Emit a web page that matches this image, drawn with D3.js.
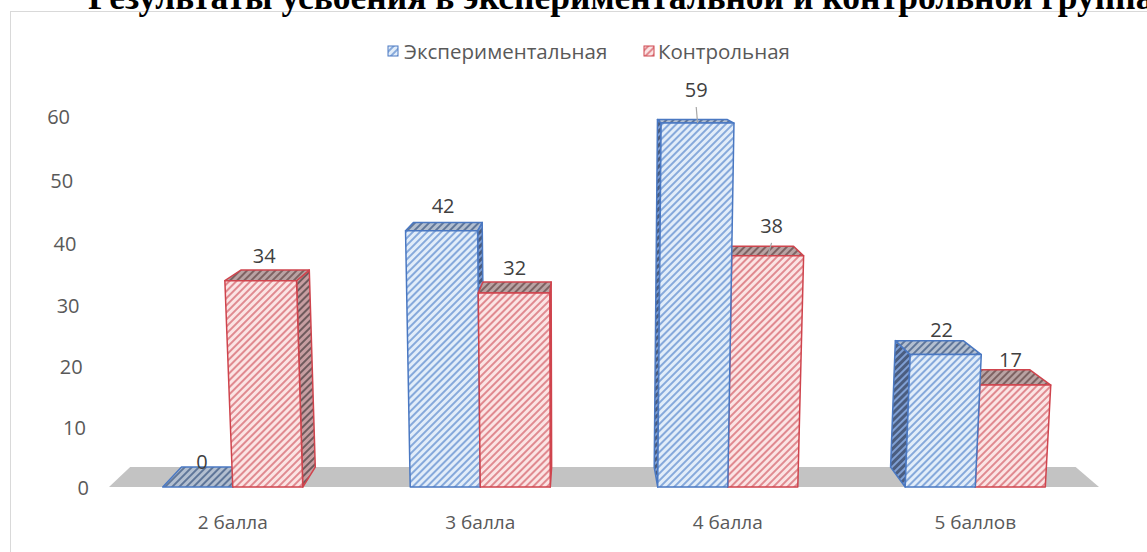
<!DOCTYPE html>
<html>
<head>
<meta charset="utf-8">
<script src="https://d3js.org/d3.v7.min.js"></script>
<style>
    body { margin: 0; background: #fff; }
    text { font-family: "Open Sans", sans-serif; }
</style>
</head>
<body>
<script>
    // chart data
    const title = "Результаты усвоения в экспериментальной и контрольной группах";
    const categories = ["2 балла", "3 балла", "4 балла", "5 баллов"];
    const seriesNames = ["Экспериментальная", "Контрольная"];
    const experimental = [0, 42, 59, 22];
    const control = [34, 32, 38, 17];
    const yTicks = [0, 10, 20, 30, 40, 50, 60];

    const width = 1147, height = 552;
    const svg = d3.select("body").append("svg")
        .attr("width", width)
        .attr("height", height);

    // simple 3d look: tall things lean outwards, depth goes to a point up top
    const base = 487, cx = 573, k = 0.000115;
    const vp = [580, 45], depth = 0.045;
    function project(x, h, d) {
        const g = 1 + k * h;
        const sx = cx + (x - cx) * g;
        const sy = base - h * g;
        return [sx + (vp[0] - sx) * depth * d, sy + (vp[1] - sy) * depth * d];
    }

    const x = d3.scaleBand().domain(categories).range([109, 1099])
        .paddingInner(0.434).paddingOuter(0.217);
    const xs = d3.scaleBand().domain(seriesNames).range([0, x.bandwidth()]);
    const y = d3.scaleLinear().domain([0, 60]).range([0, 355.8]);

    // hatch patterns for each face
    const styles = {
        "Экспериментальная": {
            edge: "#4a78c2",
            front: ["#e2edf9", "#86a9db"],
            top: ["#b3bfd0", "#5f7699"],
            side: ["#4a5d80", "#7f9fd4"]
        },
        "Контрольная": {
            edge: "#cf444d",
            front: ["#fbe4e4", "#e08a90"],
            top: ["#b9a3a3", "#7d6262"],
            side: ["#c79ea1", "#6f5a5c"]
        }
    };
    const defs = svg.append("defs");
    function makePattern(id, bg, fg) {
        const p = defs.append("pattern")
            .attr("id", id)
            .attr("patternUnits", "userSpaceOnUse")
            .attr("width", 5).attr("height", 5)
            .attr("patternTransform", "rotate(45)");
        p.append("rect").attr("width", 5).attr("height", 5).attr("fill", bg);
        p.append("rect").attr("width", 2).attr("height", 5).attr("fill", fg);
    }
    seriesNames.forEach(function (s, i) {
        ["front", "top", "side"].forEach(function (f) {
            makePattern("p" + i + f, styles[s][f][0], styles[s][f][1]);
        });
    });

    // frame + title (title runs off the top and right like the original)
    svg.append("rect")
        .attr("x", 10.5).attr("y", 11.5)
        .attr("width", 1200).attr("height", 600)
        .attr("fill", "none").attr("stroke", "#d9d9d9");
    svg.append("text")
        .attr("x", 88).attr("y", 9)
        .style("font-family", "'Liberation Serif', 'Times New Roman', serif")
        .style("font-weight", "bold")
        .style("font-size", "35.5px")
        .attr("fill", "#000")
        .text(title);

    // legend
    const legendPos = [[388, 404], [644, 658]];
    seriesNames.forEach(function (s, i) {
        svg.append("rect")
            .attr("x", legendPos[i][0]).attr("y", 46)
            .attr("width", 10).attr("height", 10)
            .attr("fill", "url(#p" + i + "front)")
            .attr("stroke", styles[s].edge);
        svg.append("text")
            .attr("x", legendPos[i][1]).attr("y", 51)
            .attr("dominant-baseline", "central")
            .style("font-size", "20.5px")
            .attr("fill", "#595959")
            .text(s);
    });

    // floor
    const line = function (pts) { return "M" + pts.map(function (p) { return p.join(","); }).join("L") + "Z"; };
    const r = x.range();
    svg.append("path")
        .attr("d", line([project(r[0], 0, 0), project(r[1], 0, 0), project(r[1], 0, 1), project(r[0], 0, 1)]))
        .attr("fill", "#c3c3c3");

    // y axis labels
    svg.append("g").selectAll("text")
        .data(yTicks)
        .enter().append("text")
        .attr("x", function (d) { return project(r[0], y(d), 0)[0] - 20; })
        .attr("y", function (d) { return project(r[0], y(d), 0)[1]; })
        .attr("text-anchor", "end")
        .attr("dominant-baseline", "central")
        .style("font-size", "20px")
        .attr("fill", "#595959")
        .text(function (d) { return d; });

    // category labels
    svg.append("g").selectAll("text")
        .data(categories)
        .enter().append("text")
        .attr("x", function (d) { return x(d) + x.bandwidth() / 2; })
        .attr("y", 522)
        .attr("text-anchor", "middle")
        .attr("dominant-baseline", "central")
        .style("font-size", "19px")
        .attr("fill", "#595959")
        .text(function (d) { return d; });

    // bars
    const bars = [];
    categories.forEach(function (c, ci) {
        [experimental, control].forEach(function (vals, si) {
            const x0 = x(c) + xs(seriesNames[si]);
            bars.push({ cat: c, si: si, s: seriesNames[si], value: vals[ci], x0: x0, x1: x0 + xs.bandwidth() });
        });
    });
    // far ones first so closer faces cover them
    bars.sort(function (a, b) {
        return Math.abs((b.x0 + b.x1) / 2 - vp[0]) - Math.abs((a.x0 + a.x1) / 2 - vp[0]);
    });

    const barG = svg.append("g");
    bars.forEach(function (b) {
        const h = y(b.value);
        const fbl = project(b.x0, 0, 0), fbr = project(b.x1, 0, 0);
        const ftl = project(b.x0, h, 0), ftr = project(b.x1, h, 0);
        const btl = project(b.x0, h, 1), btr = project(b.x1, h, 1);
        const bbl = project(b.x0, 0, 1), bbr = project(b.x1, 0, 1);
        const st = styles[b.s];
        const face = function (pts, kind) {
            barG.append("path")
                .attr("d", line(pts))
                .attr("fill", "url(#p" + b.si + kind + ")")
                .attr("stroke", st.edge)
                .attr("stroke-width", 1.5)
                .attr("stroke-linejoin", "round");
        };
        if (b.x1 < vp[0]) face([fbr, ftr, btr, bbr], "side");
        if (b.x0 > vp[0]) face([fbl, ftl, btl, bbl], "side");
        face([ftl, ftr, btr, btl], "top");
        if (h > 0) face([fbl, fbr, ftr, ftl], "front");
    });

    // data labels, two of them moved up by hand with a leader line
    const moved = { "Экспериментальная|4 балла": [0, -8], "Контрольная|4 балла": [6, -5] };
    const labelG = svg.append("g");
    bars.forEach(function (b) {
        const h = y(b.value);
        const mid = (b.x0 + b.x1) / 2;
        const lx = project(mid, h, 0.25)[0];
        const ly = project(mid, h, 0)[1] - 18;
        const off = moved[b.s + "|" + b.cat] || [0, 0];
        if (moved[b.s + "|" + b.cat]) {
            const end = project(mid, h, 0);
            labelG.append("line")
                .attr("x1", lx + off[0]).attr("y1", ly + off[1] + 10)
                .attr("x2", end[0]).attr("y2", end[1])
                .attr("stroke", "#a6a6a6").attr("stroke-width", 1.2);
        }
        labelG.append("text")
            .attr("x", lx + off[0])
            .attr("y", ly + off[1])
            .attr("text-anchor", "middle")
            .style("font-size", "20px")
            .attr("fill", "#404040")
            .text(b.value);
    });
</script>
</body>
</html>
